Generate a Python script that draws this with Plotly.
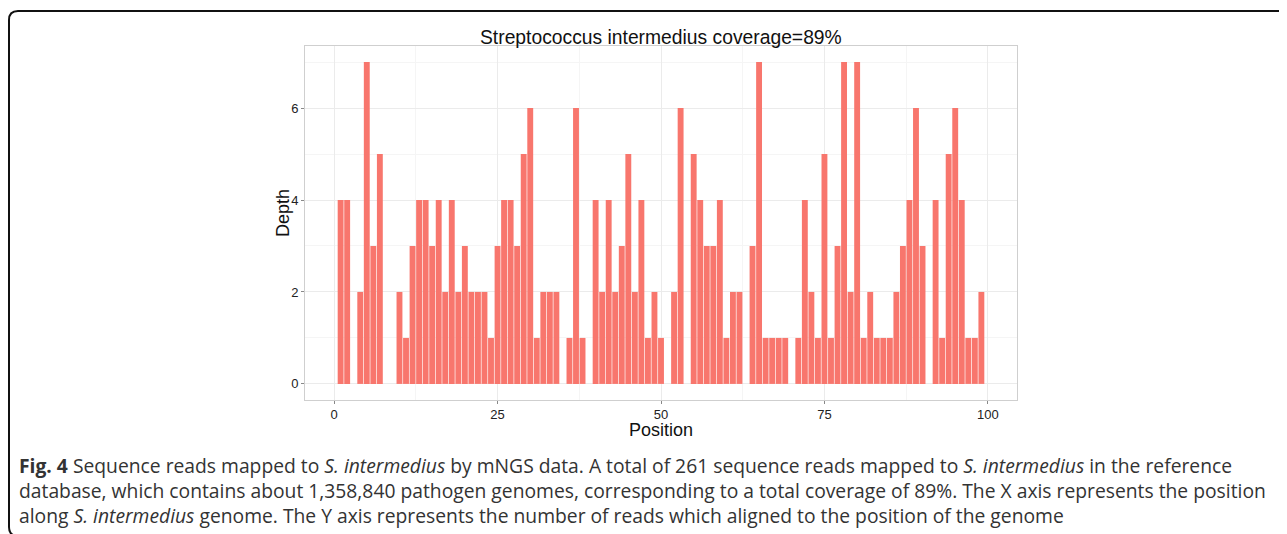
import plotly.graph_objects as go

# ---- data ----
positions = [1, 2, 4, 5, 6, 7,
             10, 11, 12, 13, 14, 15, 16, 17, 18, 19, 20, 21, 22, 23, 24,
             25, 26, 27, 28, 29, 30, 31, 32, 33, 34,
             36, 37, 38,
             40, 41, 42, 43, 44, 45, 46, 47, 48, 49, 50,
             52, 53,
             55, 56, 57, 58, 59, 60, 61, 62,
             64, 65, 66, 67, 68, 69,
             71, 72, 73, 74, 75, 76, 77, 78, 79, 80, 81, 82, 83, 84, 85, 86, 87, 88, 89, 90,
             92, 93, 94, 95, 96, 97, 98, 99]
depths = [4, 4, 2, 7, 3, 5,
          2, 1, 3, 4, 4, 3, 4, 2, 4, 2, 3, 2, 2, 2, 1,
          3, 4, 4, 3, 5, 6, 1, 2, 2, 2,
          1, 6, 1,
          4, 2, 4, 2, 3, 5, 2, 4, 1, 2, 1,
          2, 6,
          5, 4, 3, 3, 4, 1, 2, 2,
          3, 7, 1, 1, 1, 1,
          1, 4, 2, 1, 5, 1, 3, 7, 2, 7, 1, 2, 1, 1, 1, 2, 3, 4, 6, 3,
          4, 1, 5, 6, 4, 1, 1, 2]
x_ticks = [0, 25, 50, 75, 100]
y_ticks = [0, 2, 4, 6]

title_text = "Streptococcus intermedius coverage=89%"
x_title = "Position"
y_title = "Depth"
caption_lines = [
    "<b>Fig. 4</b> Sequence reads mapped to <i>S. intermedius</i> by mNGS data. A total of 261 sequence reads mapped to <i>S. intermedius</i> in the reference",
    "database, which contains about 1,358,840 pathogen genomes, corresponding to a total coverage of 89%. The X axis represents the position",
    "along <i>S. intermedius</i> genome. The Y axis represents the number of reads which aligned to the position of the genome",
]

OFF = 8  # default body margin of the html page
W, H = 1287 - OFF, 534 - OFF
# plot panel in page pixels
PL, PR, PT, PB = 305, 1017, 46, 400
L, R, T, B = PL - OFF, PR - OFF, PT - OFF, PB - OFF


def px_x(px):
    """page pixel x -> paper coordinate"""
    return (px - PL) / (PR - PL)


def px_y(py):
    """page pixel y -> paper coordinate"""
    return (PB - py) / (PB - PT)


fig = go.Figure()
fig.add_trace(go.Bar(
    x=positions, y=depths,
    marker=dict(color="#F8766D", line=dict(width=0)),
    width=0.9,
    showlegend=False,
))

grid_major = "#EBEBEB"
grid_minor = "#F5F5F5"
fig.update_layout(
    width=W, height=H,
    margin=dict(l=L, r=W - R, t=T, b=H - B, pad=0),
    paper_bgcolor="white",
    plot_bgcolor="white",
    font=dict(family="Liberation Sans, Arial, sans-serif", color="#333333"),
    xaxis=dict(
        range=[-4.45, 104.45],
        tickvals=x_ticks,
        ticktext=[str(v) for v in x_ticks],
        showgrid=True, gridcolor=grid_major, gridwidth=1,
        minor=dict(tickvals=[12.5, 37.5, 62.5, 87.5], showgrid=True, gridcolor=grid_minor, gridwidth=1),
        zeroline=False,
        ticks="outside", ticklen=3, tickcolor="#888888", tickwidth=1,
        tickfont=dict(size=13, color="#222222"),
        ticklabelstandoff=-1,
        showline=True, linecolor="#CFCFCF", linewidth=1, mirror=True,
    ),
    yaxis=dict(
        range=[-0.35, 7.35],
        tickvals=y_ticks,
        showgrid=True, gridcolor=grid_major, gridwidth=1,
        minor=dict(tickvals=[1, 3, 5, 7], showgrid=True, gridcolor=grid_minor, gridwidth=1),
        zeroline=False,
        ticks="outside", ticklen=3, tickcolor="#888888", tickwidth=1,
        tickfont=dict(size=13, color="#222222"),
        showline=True, linecolor="#CFCFCF", linewidth=1, mirror=True,
    ),
    bargap=0.1,
)

# title
fig.add_annotation(
    text=title_text, xref="paper", yref="paper",
    x=0.5, y=px_y(38), xanchor="center", yanchor="middle",
    showarrow=False, font=dict(size=19.3, color="#111111", family="Liberation Sans, Arial, sans-serif"),
)
# axis titles
fig.add_annotation(
    text=x_title, xref="paper", yref="paper",
    x=0.5, y=px_y(429.5), xanchor="center", yanchor="middle",
    showarrow=False, font=dict(size=18, color="#111111", family="Liberation Sans, Arial, sans-serif"),
)
fig.add_annotation(
    text=y_title, xref="paper", yref="paper", textangle=-90,
    x=px_x(283), y=px_y(213), xanchor="center", yanchor="middle",
    showarrow=False, font=dict(size=18, color="#111111", family="Liberation Sans, Arial, sans-serif"),
)

# caption
for line, yc in zip(caption_lines, [465, 490, 515]):
    fig.add_annotation(
        text=line, xref="paper", yref="paper",
        x=px_x(17), y=px_y(yc), xanchor="left", yanchor="middle",
        showarrow=False, align="left",
        font=dict(size=19.3, color="#333333", family="Open Sans, Noto Sans, sans-serif"),
    )

# rounded frame (top-left and bottom-left corners visible)
r = 9
x0, y0, y1, x1 = 9, 11, 536, 1300
path = (f"M {px_x(x1)},{px_y(y0)} L {px_x(x0 + r)},{px_y(y0)} "
        f"Q {px_x(x0)},{px_y(y0)} {px_x(x0)},{px_y(y0 + r)} "
        f"L {px_x(x0)},{px_y(y1 - r)} "
        f"Q {px_x(x0)},{px_y(y1)} {px_x(x0 + r)},{px_y(y1)}")
fig.add_shape(type="path", path=path, xref="paper", yref="paper",
              line=dict(color="#111111", width=2), layer="above")

fig.write_html("out.html")
